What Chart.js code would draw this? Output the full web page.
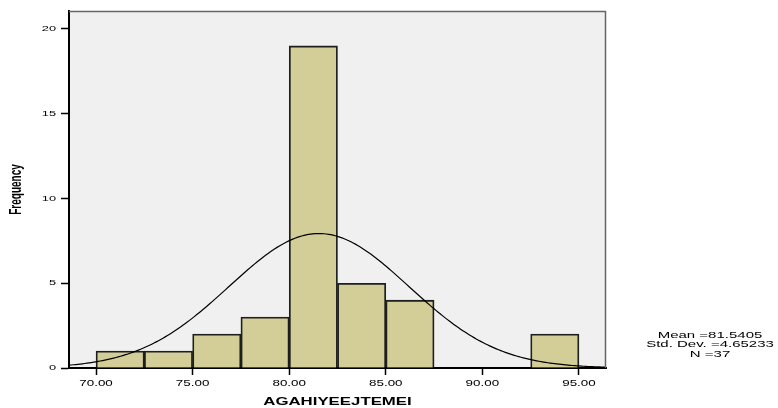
<!DOCTYPE html>
<html>
<head>
<meta charset="utf-8">
<script src="https://cdn.jsdelivr.net/npm/chart.js@4"></script>
<style>
  html, body { margin: 0; padding: 0; background: #ffffff; }
  #wrap { width: 778px; height: 408px; position: relative; }
</style>
</head>
<body>
<div id="wrap"><canvas id="c"></canvas></div>
<script>
// ---- data ----
const binStarts = [70, 72.5, 75, 77.5, 80, 82.5, 85, 87.5, 90, 92.5];
const binWidth = 2.5;
const counts = [1, 1, 2, 3, 19, 5, 4, 0, 0, 2];
const xTickValues = [70, 75, 80, 85, 90, 95];
const yTickValues = [0, 5, 10, 15, 20];
const statMean = 81.5405;
const statSD = 4.65233;
const statN = 37;
const statLines = ['Mean =81.5405', 'Std. Dev. =4.65233', 'N =37'];
const xTitle = 'AGAHIYEEJTEMEI';
const yTitle = 'Frequency';
const xMin = 68.6, xMax = 96.4, yMax = 21.06;

// ---- derived ----
const barData = binStarts.map((s, i) => ({ x: s + binWidth / 2, y: counts[i] }));
const curveData = [];
const steps = 240;
for (let i = 0; i <= steps; i++) {
  const x = xMin + (xMax - xMin) * i / steps;
  const z = (x - statMean) / statSD;
  const y = statN * binWidth * Math.exp(-0.5 * z * z) / (statSD * Math.sqrt(2 * Math.PI));
  curveData.push({ x, y });
}

// text in the reference is horizontally stretched
const canvas = document.getElementById('c');
const ctx = canvas.getContext('2d');
const origFill = ctx.fillText.bind(ctx);
const SX = 1.6;
ctx.fillText = function (text, x, y, maxWidth) {
  const m = ctx.getTransform();
  const p = m.transformPoint(new DOMPoint(x, y));
  ctx.save();
  ctx.setTransform(new DOMMatrix().translate(p.x, p.y).scale(SX, 1).translate(-p.x, -p.y).multiply(m));
  if (maxWidth === undefined) origFill(text, x, y); else origFill(text, x, y, maxWidth / SX);
  ctx.restore();
};

const FONT = '"Liberation Sans", Arial, sans-serif';

const areaPlugin = {
  id: 'area',
  beforeDraw(chart) {
    const { ctx, chartArea: a } = chart;
    ctx.save();
    ctx.fillStyle = '#F0F0F0';
    ctx.fillRect(a.left, a.top, a.right - a.left, a.bottom - a.top);
    ctx.restore();
  },
  afterDraw(chart) {
    const { ctx, chartArea: a } = chart;
    ctx.save();
    ctx.strokeStyle = '#666666';
    ctx.lineWidth = 1.5;
    ctx.beginPath();
    ctx.moveTo(a.left, a.top + 0.5);
    ctx.lineTo(a.right - 0.5, a.top + 0.5);
    ctx.lineTo(a.right - 0.5, a.bottom);
    ctx.stroke();
    ctx.fillStyle = '#000000';
    ctx.font = '9.4px ' + FONT;
    ctx.textAlign = 'center';
    ctx.textBaseline = 'alphabetic';
    const ys = [337.7, 347.4, 356.7];
    statLines.forEach((t, i) => ctx.fillText(t, 710, ys[i]));
    ctx.restore();
  }
};

new Chart(canvas, {
  type: 'bar',
  data: {
    datasets: [
      {
        type: 'line',
        data: curveData,
        borderColor: '#000000',
        borderWidth: 1.2,
        pointRadius: 0,
        fill: false,
        tension: 0,
        order: 0
      },
      {
        type: 'bar',
        data: barData,
        backgroundColor: '#D3CE97',
        borderColor: '#1e1e1e',
        borderWidth: 1.8,
        barPercentage: 1,
        categoryPercentage: 1,
        order: 1
      }
    ]
  },
  options: {
    responsive: true,
    maintainAspectRatio: false,
    animation: false,
    devicePixelRatio: 1,
    layout: { padding: { left: 0, right: 172, top: 11, bottom: 0 } },
    plugins: { legend: { display: false }, tooltip: { enabled: false } },
    scales: {
      x: {
        type: 'linear',
        min: xMin,
        max: xMax,
        offset: false,
        afterFit(scale) { scale.height = 40; },
        afterBuildTicks(scale) { scale.ticks = xTickValues.map(v => ({ value: v })); },
        grid: { display: true, drawOnChartArea: false, drawTicks: true, tickLength: 7, tickColor: '#000000', tickWidth: 1.5, offset: false },
        border: { display: true, color: '#000000', width: 2 },
        ticks: {
          autoSkip: false,
          maxRotation: 0,
          padding: 4,
          color: '#000000',
          font: { family: FONT, size: 8.4 },
          callback: v => Number(v).toFixed(2)
        },
        title: {
          display: true,
          text: xTitle,
          color: '#000000',
          font: { family: FONT, size: 10.5, weight: 'bold' },
          padding: { top: 0, bottom: 0 }
        }
      },
      y: {
        type: 'linear',
        min: 0,
        max: yMax,
        afterFit(scale) { scale.width = 69; },
        afterBuildTicks(scale) { scale.ticks = yTickValues.map(v => ({ value: v })); },
        grid: { display: true, drawOnChartArea: false, drawTicks: true, tickLength: 8, tickColor: '#000000', tickWidth: 1.5 },
        border: { display: true, color: '#000000', width: 2 },
        ticks: {
          autoSkip: false,
          padding: 5,
          color: '#000000',
          font: { family: FONT, size: 8 },
          callback: v => String(v)
        },
        title: {
          display: true,
          text: yTitle,
          color: '#000000',
          font: { family: FONT, size: 10, weight: 'bold' },
          padding: { top: 11, bottom: 0 }
        }
      }
    }
  },
  plugins: [areaPlugin]
});
</script>
</body>
</html>
